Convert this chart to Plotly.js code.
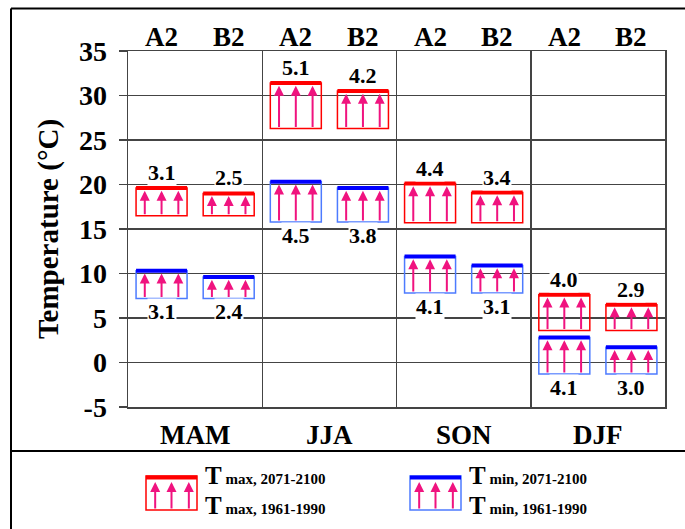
<!DOCTYPE html>
<html>
<head>
<meta charset="utf-8">
<script src="https://cdn.plot.ly/plotly-3.0.1.min.js"></script>
<style>html,body{margin:0;padding:0;background:#fff;}#chart{width:685px;height:529px;}</style>
</head>
<body>
<div id="chart"></div>
<script>
// ---- data ----
const seasons = ['MAM', 'JJA', 'SON', 'DJF'];
const scenarios = ['A2', 'B2', 'A2', 'B2', 'A2', 'B2', 'A2', 'B2'];
const tmaxBase   = [16.5, 16.5, 26.3, 26.3, 15.7, 15.7, 3.6, 3.6];     // Tmax 1961-1990
const tmaxFuture = [19.6, 19.0, 31.4, 30.5, 20.1, 19.1, 7.6, 6.5];     // Tmax 2071-2100
const tmaxChange = ['3.1', '2.5', '5.1', '4.2', '4.4', '3.4', '4.0', '2.9'];
const tminBase   = [7.2, 7.2, 15.8, 15.8, 7.8, 7.8, -1.3, -1.3];      // Tmin 1961-1990
const tminFuture = [10.3, 9.6, 20.3, 19.6, 11.9, 10.9, 2.8, 1.7];      // Tmin 2071-2100
const tminChange = ['3.1', '2.4', '4.5', '3.8', '4.1', '3.1', '4.1', '3.0'];
const yTicks = [-5, 0, 5, 10, 15, 20, 25, 30, 35];

// ---- styling ----
const FONT = '"Liberation Serif"';
const RED = '#ff0000', BLUE = '#0000ff', LBLUE = '#4d7bff', PINK = '#f0137f';
const BOXW = 0.76;
const xs = scenarios.map((_, i) => i + 0.5);

function topLine(fut) {
  const X = [], Y = [];
  xs.forEach((x, i) => { X.push(x - BOXW / 2, x + BOXW / 2, null); Y.push(fut[i], fut[i], null); });
  return { X, Y };
}
const tmaxTop = topLine(tmaxFuture), tminTop = topLine(tminFuture);

const traces = [
  { type: 'bar', x: xs, base: tmaxBase, y: tmaxFuture.map((v, i) => v - tmaxBase[i]), width: BOXW,
    marker: { color: 'rgba(255,255,255,0)', line: { color: RED, width: 1.5 } }, hoverinfo: 'skip' },
  { type: 'bar', x: xs, base: tminBase, y: tminFuture.map((v, i) => v - tminBase[i]), width: BOXW,
    marker: { color: 'rgba(255,255,255,0)', line: { color: LBLUE, width: 1.5 } }, hoverinfo: 'skip' },
  { type: 'scatter', mode: 'lines', x: tmaxTop.X, y: tmaxTop.Y, line: { color: RED, width: 4 }, hoverinfo: 'skip' },
  { type: 'scatter', mode: 'lines', x: tminTop.X, y: tminTop.Y, line: { color: BLUE, width: 4 }, hoverinfo: 'skip' }
];

const annotations = [];
// arrows inside boxes
function addArrows(base, fut) {
  xs.forEach((x, i) => {
    [-0.25, 0, 0.25].forEach(o => {
      annotations.push({ x: x + o, y: fut[i] - 0.3, ax: x + o, ay: base[i],
        xref: 'x', yref: 'y', axref: 'x', ayref: 'y', text: '', showarrow: true,
        arrowhead: 2, arrowsize: 1, arrowwidth: 2, arrowcolor: PINK, standoff: 0, startstandoff: 0 });
    });
  });
}
addArrows(tmaxBase, tmaxFuture);
addArrows(tminBase, tminFuture);

const boldF = (size) => ({ family: FONT, size: size, color: '#000', weight: 'bold' });

// value labels
xs.forEach((x, i) => {
  annotations.push({ x: x, y: tmaxFuture[i], xref: 'x', yref: 'y', yanchor: 'bottom', yshift: 2,
    text: '<b>' + tmaxChange[i] + '</b>', showarrow: false, bgcolor: '#ffffff', borderpad: 0, font: boldF(22) });
  annotations.push({ x: x, y: tminBase[i], xref: 'x', yref: 'y', yanchor: 'top', yshift: 0,
    text: '<b>' + tminChange[i] + '</b>', showarrow: false, bgcolor: '#ffffff', borderpad: 0, font: boldF(22) });
  // scenario labels on top
  annotations.push({ x: x, y: 1.039, xref: 'x', yref: 'paper', yanchor: 'middle', text: '<b>' + scenarios[i] + '</b>',
    showarrow: false, font: boldF(27) });
});
seasons.forEach((s, k) => {
  annotations.push({ x: 2 * k + 1, y: -0.079, xref: 'x', yref: 'paper', yanchor: 'middle', text: '<b>' + s + '</b>',
    showarrow: false, font: boldF(27) });
});

// ---- frame and legend (paper coordinates) ----
const L = 128, R = 665, T = 51, B = 407;
const px = p => (p - L) / (R - L);
const py = p => (B - p) / (B - T);
const shapes = [
  { type: 'line', xref: 'paper', yref: 'paper', x0: px(11), x1: px(690), y0: py(8.5), y1: py(8.5), line: { color: '#000', width: 2 } },
  { type: 'line', xref: 'paper', yref: 'paper', x0: px(11), x1: px(11), y0: py(8.5), y1: py(535), line: { color: '#000', width: 2 } },
  { type: 'line', xref: 'paper', yref: 'paper', x0: px(11), x1: px(690), y0: py(451), y1: py(451), line: { color: '#000', width: 2 } }
];
function legendItem(x0, x1, col, lcol, sub1, sub2) {
  const y0 = 476, y1 = 510;
  shapes.push({ type: 'rect', xref: 'paper', yref: 'paper', x0: px(x0), x1: px(x1), y0: py(y1), y1: py(y0),
    line: { color: lcol, width: 1.5 }, fillcolor: 'rgba(0,0,0,0)' });
  shapes.push({ type: 'line', xref: 'paper', yref: 'paper', x0: px(x0), x1: px(x1), y0: py(y0 + 1.5), y1: py(y0 + 1.5),
    line: { color: col, width: 4 } });
  const w = x1 - x0;
  [0.18, 0.5, 0.84].forEach(f => {
    const xx = x0 + f * w;
    annotations.push({ x: px(xx), y: py(y0 + 6), ax: px(xx), ay: py(y1), xref: 'paper', yref: 'paper',
      axref: 'paper', ayref: 'paper', text: '', showarrow: true, arrowhead: 2, arrowsize: 1, arrowwidth: 2,
      arrowcolor: PINK, standoff: 0, startstandoff: 0 });
  });
  const line = sub => '<span style="font-size:25px"><b>T</b></span><span style="font-size:15px"><b> ' + sub + '</b></span>';
  annotations.push({ x: px(x1 + 6), y: py(490), xref: 'paper', yref: 'paper', xanchor: 'left', yanchor: 'middle',
    align: 'left', text: line(sub1) + '<br>' + line(sub2), showarrow: false, font: boldF(23) });
}
legendItem(146, 197, RED, RED, 'max, 2071-2100', 'max, 1961-1990');
legendItem(410, 461, BLUE, LBLUE, 'min, 2071-2100', 'min, 1961-1990');

const layout = {
  width: 685, height: 529,
  margin: { l: L, r: 685 - R, t: T, b: 529 - B, pad: 0 },
  paper_bgcolor: '#ffffff', plot_bgcolor: '#ffffff',
  showlegend: false, barmode: 'overlay',
  xaxis: { range: [0, 8], tickvals: [0, 2, 4, 6, 8], showticklabels: false, ticks: '',
    showgrid: true, gridcolor: '#444', gridwidth: 1.5, zeroline: false,
    showline: true, linecolor: '#444', linewidth: 1.5, mirror: true, fixedrange: true },
  yaxis: { range: [-5, 35], tickvals: yTicks, ticktext: yTicks.map(v => '<b>' + v + '</b>'), ticks: 'outside', ticklen: 8,
    tickcolor: '#444', tickwidth: 1.5, ticklabelstandoff: 6,
    tickfont: boldF(28),
    showgrid: true, gridcolor: '#444', gridwidth: 1.5, zeroline: false,
    showline: true, linecolor: '#444', linewidth: 1.5, mirror: true, fixedrange: true,
    title: { text: '<b>Temperature (°C)</b>', standoff: 12, font: boldF(29) } },
  shapes: shapes,
  annotations: annotations
};

Plotly.newPlot('chart', traces, layout, { displayModeBar: false, staticPlot: true });
</script>
</body>
</html>
